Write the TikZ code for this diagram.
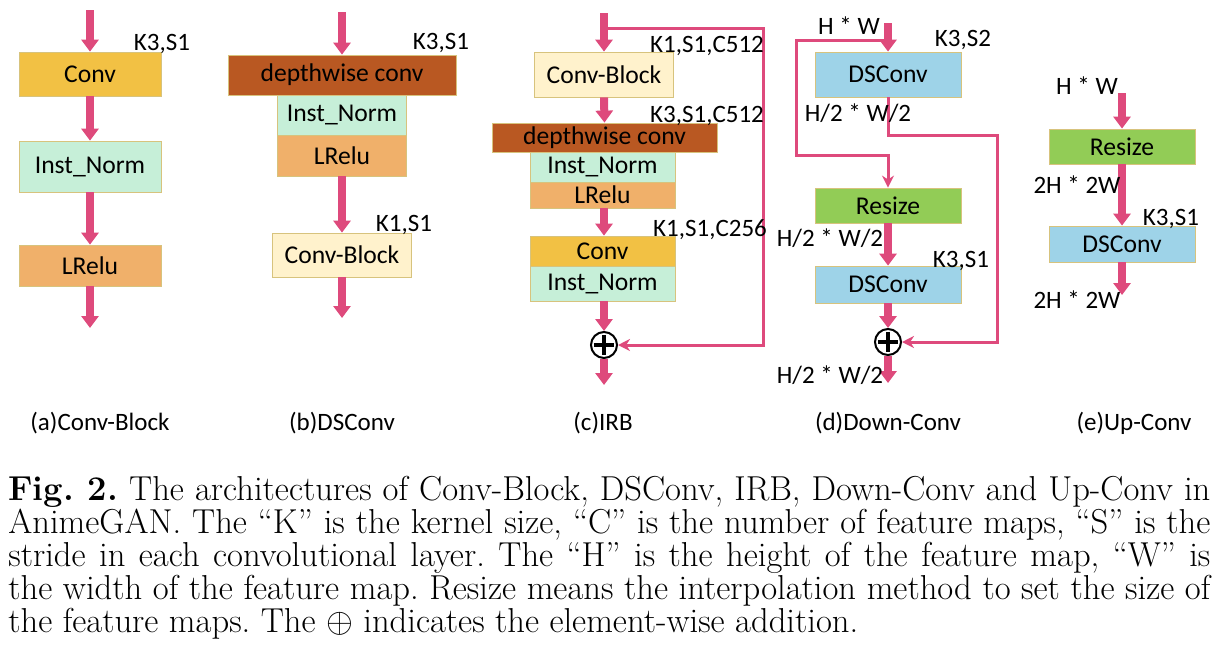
\documentclass[tikz,border=0pt]{standalone}
\usepackage{fontspec}
\newfontfamily\carl{Carlito}
\usetikzlibrary{arrows.meta,positioning}
\definecolor{pinkarr}{RGB}{222,74,124}
\definecolor{convcol}{RGB}{242,193,68}
\definecolor{instcol}{RGB}{198,239,216}
\definecolor{lrelucol}{RGB}{240,176,106}
\definecolor{dwcol}{RGB}{185,88,34}
\definecolor{cbcol}{RGB}{255,242,204}
\definecolor{dscol}{RGB}{158,211,232}
\definecolor{rscol}{RGB}{146,204,86}
\definecolor{bordcol}{RGB}{215,195,125}
\begin{document}
\begin{tikzpicture}[x=0.5pt,y=-0.5pt,
  blk/.style={rectangle,draw=bordcol,line width=0.4pt,inner sep=0pt,
    font=\carl\fontsize{12.8}{14}\selectfont,text=black},
  lbl/.style={inner sep=0pt,font=\carl\fontsize{12.5}{14}\selectfont},
  fat/.style={draw=pinkarr,line width=4pt,-{Triangle[width=8.5pt,length=6pt]}},
  skip/.style={draw=pinkarr,line width=1.5pt,-{Stealth[length=6pt,width=6pt]}},
  plus/.style={circle,draw=black,line width=1pt,fill=white,minimum size=13pt,inner sep=0pt,
    path picture={\draw[line width=1.8pt,black]
      ([yshift=-1.4pt]path picture bounding box.north) -- ([yshift=1.4pt]path picture bounding box.south)
      ([xshift=1.4pt]path picture bounding box.west) -- ([xshift=-1.4pt]path picture bounding box.east);}}
]
\useasboundingbox (0,0) rectangle (1226,670);

% ---------- (a) Conv-Block
\coordinate (a0) at (90,10);
\node[blk,fill=convcol,minimum width=71pt,minimum height=22pt] (a1) at (90,74) {Conv};
\node[blk,fill=instcol,minimum width=71pt,minimum height=25.5pt] (a2) at (90,166.5) {Inst\_Norm};
\node[blk,fill=lrelucol,minimum width=71pt,minimum height=20.5pt] (a3) at (90,265.5) {LRelu};
\coordinate (a4) at (90,328);
\draw[fat] (a0) -- (a1.north);
\draw[fat] (a1.south) -- (a2.north);
\draw[fat] (a2.south) -- (a3.north);
\draw[fat] (a3.south) -- (a4);
\node[lbl] (la1) at (162,44) {K3,S1};

% ---------- (b) DSConv
\coordinate (b0) at (342,12);
\node[blk,fill=dwcol,minimum width=114pt,minimum height=20pt] (b1) at (342,75) {depthwise conv};
\node[blk,fill=instcol,minimum width=64.5pt,minimum height=20pt] (b2) at (342,115) {Inst\_Norm};
\node[blk,fill=lrelucol,minimum width=64.5pt,minimum height=20.5pt] (b3) at (342,155.5) {LRelu};
\node[blk,fill=cbcol,minimum width=69.5pt,minimum height=22pt] (b4) at (342,255) {Conv-Block};
\coordinate (b5) at (342,318);
\draw[fat] (b0) -- (b1.north);
\draw[fat] (b3.south) -- (b4.north);
\draw[fat] (b4.south) -- (b5);
\node[lbl] (lb1) at (441,43) {K3,S1};
\node[lbl] (lb2) at (404,225) {K1,S1};

% ---------- (c) IRB
\coordinate (c0) at (604,13);
\coordinate (cs) at (604,28);
\coordinate (cr) at (763,28);
\node[blk,fill=cbcol,minimum width=69.5pt,minimum height=22.5pt] (c1) at (604,74.5) {Conv-Block};
\node[blk,fill=dwcol,minimum width=112.5pt,minimum height=14.5pt] (c2) at (604.5,137.5) {depthwise conv};
\node[blk,fill=instcol,minimum width=72.5pt,minimum height=15pt] (c3) at (602.5,167) {Inst\_Norm};
\node[blk,fill=lrelucol,minimum width=72.5pt,minimum height=13pt] (c4) at (602.5,195) {LRelu};
\node[blk,fill=convcol,minimum width=72.5pt,minimum height=15pt] (c5) at (602.5,251) {Conv};
\node[blk,fill=instcol,minimum width=72.5pt,minimum height=17.5pt] (c6) at (602.5,283.5) {Inst\_Norm};
\node[plus] (cp) at (604,345) {};
\coordinate (c7) at (604,385);
\draw[skip] (cs) -- (cr) |- (cp.east);
\draw[fat] (c0) -- (c1.north);
\draw[fat] (c1.south) -- (c2.north);
\draw[fat] (c4.south -| c0) -- (c5.north -| c0);
\draw[fat] (c6.south -| c0) -- (cp.north);
\draw[fat] (cp.south) -- (c7);
\node[lbl] (lc1) at (707,46) {K1,S1,C512};
\node[lbl] (lc2) at (707,116) {K3,S1,C512};
\node[lbl] (lc3) at (710,230) {K1,S1,C256};

% ---------- (d) Down-Conv
\coordinate (d0) at (888,23);
\coordinate (ds) at (888,40);
\coordinate (dl) at (796,155);
\coordinate (dr) at (997,135);
\node[blk,fill=dscol,minimum width=73pt,minimum height=22.5pt] (d1) at (888,74.5) {DSConv};
\node[blk,fill=rscol,minimum width=73pt,minimum height=17.5pt] (d2) at (888,205.5) {Resize};
\node[blk,fill=dscol,minimum width=73pt,minimum height=18.5pt] (d3) at (888,284.5) {DSConv};
\node[plus] (dp) at (888,342) {};
\coordinate (d4) at (888,383);
\draw[skip] (ds) -| (dl) -| (d2.north);
\draw[skip] (d1.south) |- (dr) |- (dp.east);
\draw[fat] (d0) -- (d1.north);
\draw[fat] (d2.south) -- (d3.north);
\draw[fat] (d3.south) -- (dp.north);
\draw[fat] (dp.south) -- (d4);
\node[lbl] (ld1) at (849,26) {H * W};
\node[lbl] (ld2) at (963,40) {K3,S2};
\node[lbl] (ld3) at (858,113) {H/2 * W/2};
\node[lbl] (ld4) at (830,238) {H/2 * W/2};
\node[lbl] (ld5) at (961,261) {K3,S1};
\node[lbl] (ld6) at (830,375) {H/2 * W/2};

% ---------- (e) Up-Conv
\coordinate (e0) at (1122,93);
\node[blk,fill=rscol,minimum width=73pt,minimum height=17.5pt] (e1) at (1122,146.5) {Resize};
\node[blk,fill=dscol,minimum width=73pt,minimum height=18pt] (e2) at (1122,244) {DSConv};
\coordinate (e3) at (1122,295);
\draw[fat] (e0) -- (e1.north);
\draw[fat] (e1.south) -- (e2.north);
\draw[fat] (e2.south) -- (e3);
\node[lbl] (le1) at (1087,86) {H * W};
\node[lbl] (le2) at (1077,185) {2H * 2W};
\node[lbl] (le3) at (1171,219) {K3,S1};
\node[lbl] (le4) at (1077,300) {2H * 2W};

% ---------- sub captions
\node[lbl] (sa) at (100,423) {(a)Conv-Block};
\node[lbl] (sb) at (342,423) {(b)DSConv};
\node[lbl] (sc) at (603,423) {(c)IRB};
\node[lbl] (sd) at (888,423) {(d)Down-Conv};
\node[lbl] (se) at (1134,423) {(e)Up-Conv};

% ---------- caption
\node[anchor=base west,inner sep=0pt] (cap) at (8,500) {\parbox[t]{601pt}{\fontsize{17.3}{16.5}\selectfont\parindent=0pt\frenchspacing
\textbf{Fig.~2.} The architectures of Conv-Block, DSConv, IRB, Down-Conv and Up-Conv in\linebreak
AnimeGAN. The ``K'' is the kernel size, ``C'' is the number of feature maps, ``S'' is the\linebreak
stride in each convolutional layer. The ``H'' is the height of the feature map, ``W'' is\linebreak
the width of the feature map. Resize means the interpolation method to set the size of\linebreak
the feature maps. The $\oplus$ indicates the element-wise addition.}};
\end{tikzpicture}
\end{document}
